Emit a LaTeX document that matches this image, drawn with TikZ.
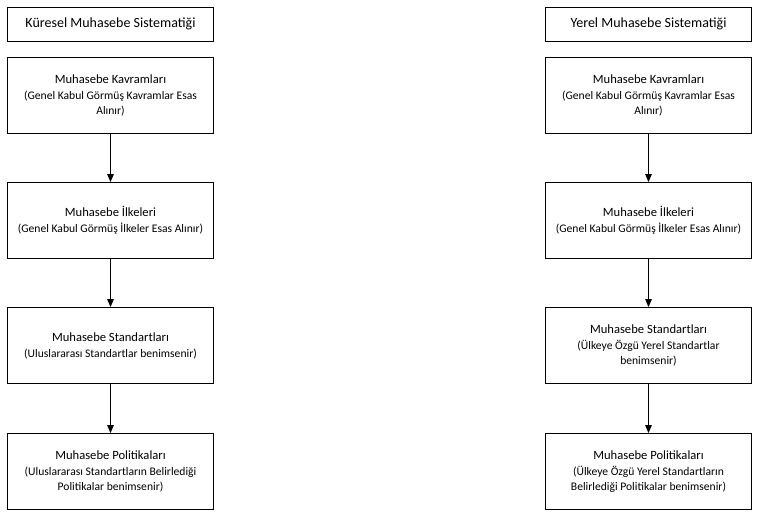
\documentclass[tikz,border=0pt]{standalone}
\usepackage{fontspec}
\setmainfont{Carlito}
\usetikzlibrary{arrows.meta}
\newcommand{\basyazi}{\fontsize{12.6}{15}\selectfont}
\newcommand{\altyazi}{\fontsize{11.6}{15}\selectfont}

\begin{document}
\begin{tikzpicture}[x=1pt, y=-1pt,
	kutu/.style={draw, line width=0.8pt, minimum width=206pt, minimum height=76pt, align=center, inner sep=2pt},
	ustkutu/.style={draw, line width=0.8pt, minimum width=206pt, minimum height=34pt, font=\fontsize{14}{16}\selectfont},
	ok/.style={line width=1pt, -{Triangle[length=8pt, width=6.5pt]}}]
			%%%%% START %%%%%
			\useasboundingbox (0, 0) rectangle (759, 518);
			
			% kuresel
			\node[ustkutu] (kbas) at (110.5, 24) {Küresel Muhasebe Sistematiği};
			\node[kutu] (kkav) at (110.5, 95) {\basyazi Muhasebe Kavramları\\[4pt]\altyazi (Genel Kabul Görmüş Kavramlar Esas\\[3pt]\altyazi Alınır)};
			\node[kutu] (kilk) at (110.5, 220.5) {\basyazi Muhasebe İlkeleri\\[4pt]\altyazi (Genel Kabul Görmüş İlkeler Esas Alınır)};
			\node[kutu] (kstd) at (110.5, 345.5) {\basyazi Muhasebe Standartları\\[4pt]\altyazi (Uluslararası Standartlar benimsenir)};
			\node[kutu] (kpol) at (110.5, 471.5) {\basyazi Muhasebe Politikaları\\[4pt]\altyazi (Uluslararası Standartların Belirlediği\\[3pt]\altyazi Politikalar benimsenir)};
			
			% yerel
			\node[ustkutu] (ybas) at (648.5, 24) {Yerel Muhasebe Sistematiği};
			\node[kutu] (ykav) at (648.5, 95) {\basyazi Muhasebe Kavramları\\[4pt]\altyazi (Genel Kabul Görmüş Kavramlar Esas\\[3pt]\altyazi Alınır)};
			\node[kutu] (yilk) at (648.5, 220.5) {\basyazi Muhasebe İlkeleri\\[4pt]\altyazi (Genel Kabul Görmüş İlkeler Esas Alınır)};
			\node[kutu] (ystd) at (648.5, 345.5) {\basyazi Muhasebe Standartları\\[4pt]\altyazi (Ülkeye Özgü Yerel Standartlar\\[3pt]\altyazi benimsenir)};
			\node[kutu] (ypol) at (648.5, 471.5) {\basyazi Muhasebe Politikaları\\[4pt]\altyazi (Ülkeye Özgü Yerel Standartların\\[3pt]\altyazi Belirlediği Politikalar benimsenir)};
			
			\foreach \a/\b in {kkav/kilk, kilk/kstd, kstd/kpol, ykav/yilk, yilk/ystd, ystd/ypol}
				\draw[ok] (\a) -- (\b);
			
			%%%%% END %%%%%
		\end{tikzpicture}
\end{document}
